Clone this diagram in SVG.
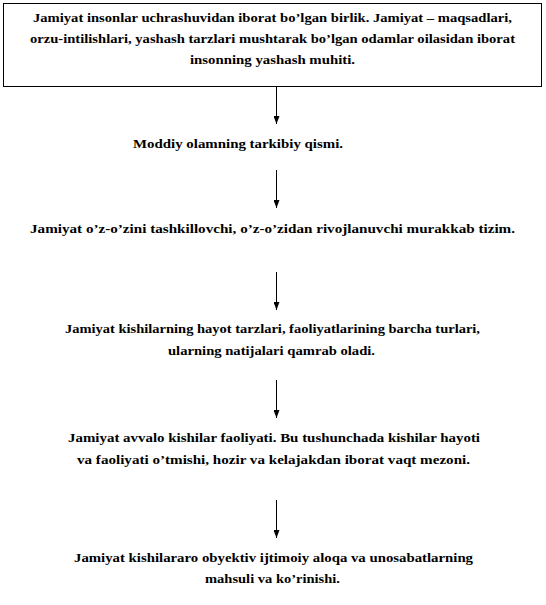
<svg xmlns="http://www.w3.org/2000/svg" width="546" height="605" viewBox="0 0 546 605">
<style>
text{font-family:"Liberation Serif","Times New Roman",serif;font-weight:bold;font-size:13px;fill:#000;text-anchor:middle}
.c line{stroke:#000;stroke-width:1}
</style>
<defs>
<marker id="ah" viewBox="0 0 8 6" refX="8" refY="3" markerWidth="8" markerHeight="6" markerUnits="userSpaceOnUse" orient="auto">
<path d="M0,0 L8,3 L0,6 Z" fill="#000"/>
</marker>
</defs>
<rect width="546" height="605" fill="#fff"/>
<g id="n1">
<rect x="3.5" y="3.5" width="538" height="83" fill="#fff" stroke="#000" stroke-width="1"/>
<text x="272.5" y="22" textLength="479" lengthAdjust="spacingAndGlyphs">Jamiyat  insonlar  uchrashuvidan  iborat bo’lgan  birlik.  Jamiyat  – maqsadlari,</text>
<text x="272.5" y="43" textLength="485" lengthAdjust="spacingAndGlyphs">orzu-intilishlari,  yashash  tarzlari  mushtarak  bo’lgan  odamlar  oilasidan  iborat</text>
<text x="272.5" y="64" textLength="165" lengthAdjust="spacingAndGlyphs">insonning  yashash  muhiti.</text>
</g>
<g id="n2">
<text x="238" y="148" textLength="210" lengthAdjust="spacingAndGlyphs">Moddiy  olamning  tarkibiy  qismi.</text>
</g>
<g id="n3">
<text x="272.5" y="233" textLength="485" lengthAdjust="spacingAndGlyphs">Jamiyat  o’z-o’zini  tashkillovchi,  o’z-o’zidan  rivojlanuvchi  murakkab  tizim.</text>
</g>
<g id="n4">
<text x="272.5" y="333" textLength="415" lengthAdjust="spacingAndGlyphs">Jamiyat  kishilarning  hayot  tarzlari,  faoliyatlarining  barcha turlari,</text>
<text x="271.5" y="355" textLength="207" lengthAdjust="spacingAndGlyphs">ularning  natijalari  qamrab  oladi.</text>
</g>
<g id="n5">
<text x="274" y="442" textLength="412" lengthAdjust="spacingAndGlyphs">Jamiyat  avvalo  kishilar  faoliyati.  Bu  tushunchada  kishilar  hayoti</text>
<text x="273.5" y="464" textLength="393" lengthAdjust="spacingAndGlyphs">va faoliyati  o’tmishi,  hozir  va kelajakdan  iborat  vaqt mezoni.</text>
</g>
<g id="n6">
<text x="273.5" y="562" textLength="399" lengthAdjust="spacingAndGlyphs">Jamiyat  kishilararo  obyektiv  ijtimoiy  aloqa va unosabatlarning</text>
<text x="272.5" y="583" textLength="135" lengthAdjust="spacingAndGlyphs">mahsuli  va ko’rinishi.</text>
</g>
<g class="c" id="connectors">
<line x1="276.5" y1="87" x2="276.5" y2="124" marker-end="url(#ah)"/>
<line x1="276.5" y1="170" x2="276.5" y2="208" marker-end="url(#ah)"/>
<line x1="276.5" y1="272" x2="276.5" y2="310" marker-end="url(#ah)"/>
<line x1="276.5" y1="380" x2="276.5" y2="418" marker-end="url(#ah)"/>
<line x1="276.5" y1="500" x2="276.5" y2="538" marker-end="url(#ah)"/>
</g>
</svg>
